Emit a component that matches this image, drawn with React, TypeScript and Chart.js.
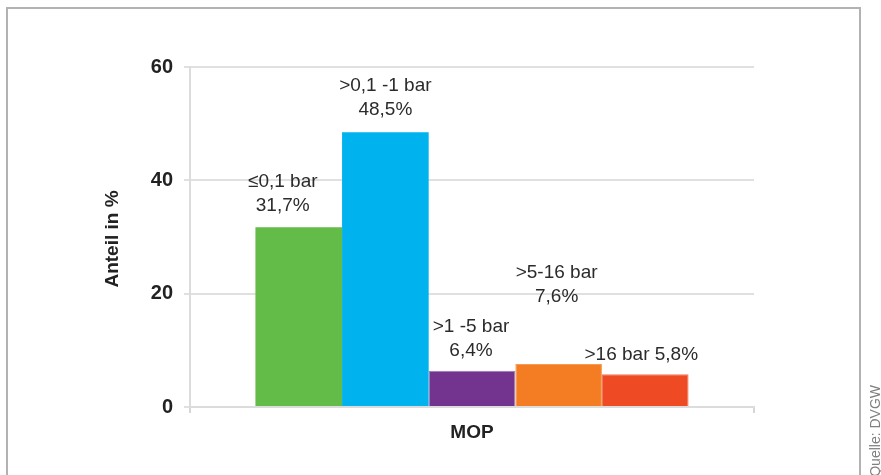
import React, { useEffect, useRef } from "react";
import { Chart, registerables } from "chart.js";

Chart.register(...registerables);

const categories = ["MOP"];
const seriesNames = ["≤0,1 bar", ">0,1 -1 bar", ">1 -5 bar", ">5-16 bar", ">16 bar"];
const seriesValues = [31.7, 48.5, 6.4, 7.6, 5.8];
const valueLabels = ["31,7%", "48,5%", "6,4%", "7,6%", "5,8%"];
const yTicks = [0, 20, 40, 60];
const yTitle = "Anteil in %";
const sourceText = "Quelle: DVGW";

// styling (not data)
const barColors = ["#64BC48", "#00B3EE", "#72348F", "#F47C22", "#EE4A24"];
const barBorders = ["#64BC48", "#00B3EE", "#9C7BB8", "#F79A55", "#F27358"];
const labelOneLine = [false, false, false, false, true];
const labelDx = [-16, 0, -1, -2, -4];
const labelRise = [22, 22, 20, 67, 19];

const FONT = "'Liberation Sans', Arial, sans-serif";

export default function App() {
  const ref = useRef<HTMLCanvasElement | null>(null);

  useEffect(() => {
    document.body.style.margin = "0";
    const canvas = ref.current;
    if (!canvas) return;

    const extras = {
      id: "extras",
      beforeDraw(chart: any) {
        const ctx = chart.ctx;
        ctx.save();
        ctx.fillStyle = "#ffffff";
        ctx.fillRect(0, 0, chart.width, chart.height);
        ctx.strokeStyle = "#b2b2b2";
        ctx.lineWidth = 2;
        ctx.beginPath();
        ctx.moveTo(7, 480);
        ctx.lineTo(7, 8);
        ctx.lineTo(860, 8);
        ctx.lineTo(860, 480);
        ctx.stroke();
        ctx.restore();
      },
      afterDatasetsDraw(chart: any) {
        const ctx = chart.ctx;
        ctx.save();
        ctx.font = `19px ${FONT}`;
        ctx.fillStyle = "#2b2b2b";
        ctx.textAlign = "center";
        ctx.textBaseline = "middle";
        chart.data.datasets.forEach((ds: any, i: number) => {
          const meta = chart.getDatasetMeta(i);
          const bar: any = meta.data[0];
          if (!bar) return;
          const x = bar.x + labelDx[i];
          const yb = bar.y - labelRise[i];
          if (labelOneLine[i]) {
            ctx.fillText(`${seriesNames[i]} ${valueLabels[i]}`, x, yb);
          } else {
            ctx.fillText(valueLabels[i], x, yb);
            ctx.fillText(seriesNames[i], x, yb - 24);
          }
        });
        // y title
        const ca = chart.chartArea;
        ctx.save();
        ctx.translate(113, (ca.top + ca.bottom) / 2 + 2);
        ctx.rotate(-Math.PI / 2);
        ctx.font = `bold 19px ${FONT}`;
        ctx.fillStyle = "#222222";
        ctx.fillText(yTitle, 0, 0);
        ctx.restore();
        // source
        ctx.save();
        ctx.translate(876, 385);
        ctx.rotate(-Math.PI / 2);
        ctx.font = `14px ${FONT}`;
        ctx.fillStyle = "#808080";
        ctx.textAlign = "right";
        ctx.fillText(sourceText, 0, 0);
        ctx.restore();
        ctx.restore();
      },
    };

    const chart = new Chart(canvas, {
      type: "bar",
      data: {
        labels: categories,
        datasets: seriesNames.map((name, i) => ({
          label: name,
          data: [seriesValues[i]],
          backgroundColor: barColors[i],
          borderColor: barBorders[i],
          borderWidth: i >= 2 ? 1 : 0,
          categoryPercentage: 0.768,
          barPercentage: 1,
        })),
      },
      options: {
        responsive: false,
        animation: false,
        layout: { padding: { top: 67, right: 127, bottom: 0, left: 0 } },
        plugins: {
          legend: { display: false },
          tooltip: { enabled: false },
        },
        scales: {
          x: {
            grid: {
              display: true,
              drawOnChartArea: false,
              drawTicks: true,
              tickLength: 6,
              color: "#d6d6d6",
              lineWidth: 2,
              offset: true,
            },
            border: { display: true, color: "#dcdcdc", width: 2 },
            ticks: {
              color: "#222222",
              font: { family: FONT, size: 19, weight: "bold" },
              padding: 8,
            },
            afterFit: (s: any) => {
              s.height = 68;
            },
          },
          y: {
            min: 0,
            max: 60,
            afterBuildTicks: (s: any) => {
              s.ticks = yTicks.map((v) => ({ value: v }));
            },
            grid: {
              color: "#e0e0e0",
              lineWidth: 2,
              tickLength: 6,
            },
            border: { display: true, color: "#dcdcdc", width: 2 },
            ticks: {
              color: "#222222",
              font: { family: FONT, size: 20, weight: "bold" },
              padding: 11,
            },
            afterFit: (s: any) => {
              s.width = 190;
            },
          },
        },
      },
      plugins: [extras],
    } as any);

    return () => chart.destroy();
  }, []);

  return (
    <div style={{ width: 881, height: 475, overflow: "hidden", position: "relative" }}>
      <canvas ref={ref} width={881} height={475} style={{ display: "block", width: 881, height: 475 }} />
    </div>
  );
}
